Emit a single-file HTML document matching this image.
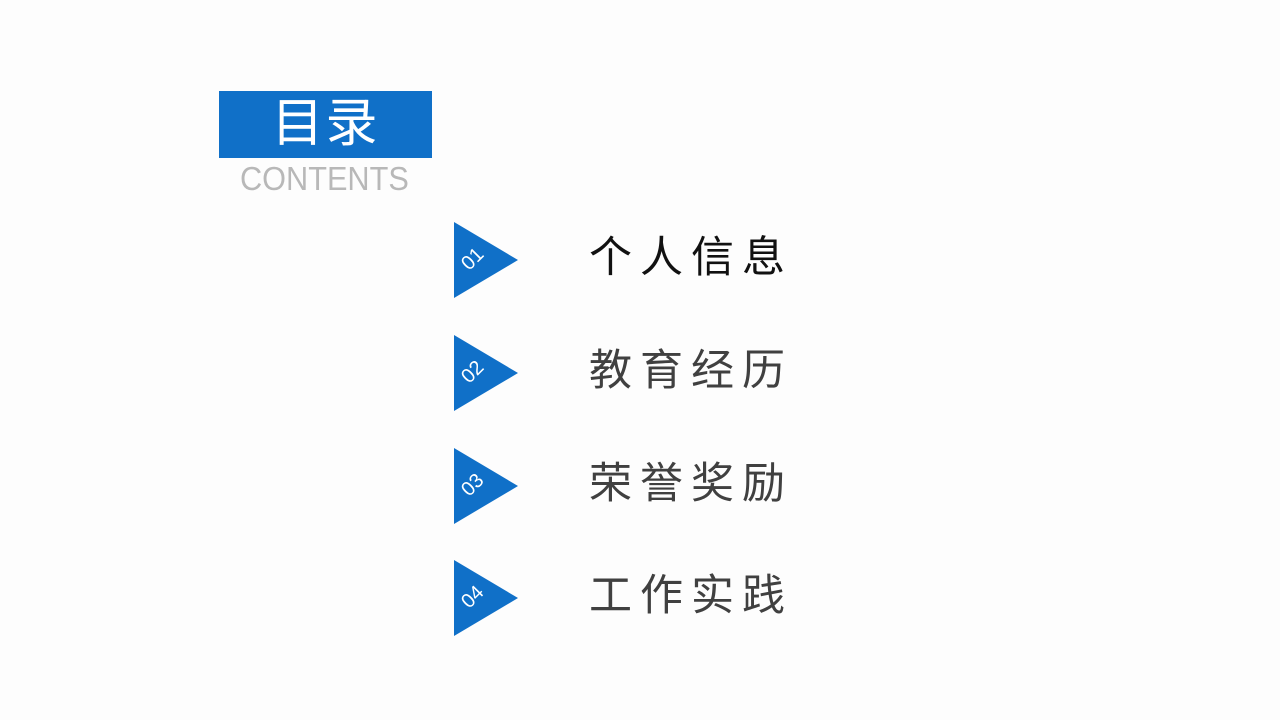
<!DOCTYPE html>
<html><head><meta charset="utf-8"><style>
body{margin:0;width:1280px;height:720px;background:#fdfdfd;position:relative;overflow:hidden;font-family:"Liberation Sans","Noto Sans CJK SC",sans-serif}
.box{position:absolute;left:219px;top:91px;width:213px;height:67px;background:#1070c8;color:#fff;font-size:52px;text-align:center;line-height:67px;letter-spacing:2px}
.ct{position:absolute;left:240px;top:160px;font-size:33px;color:#b8b8b8;font-weight:300;letter-spacing:0px;transform:scaleX(0.93);transform-origin:left}
.tri{position:absolute;left:454px;width:0;height:0;border-top:38px solid transparent;border-bottom:38px solid transparent;border-left:64px solid #1070c8}
.num{position:absolute;left:462px;color:#fff;font-size:20px;transform:rotate(-45deg);font-weight:300}
.it{position:absolute;left:589px;font-size:43px;color:#404040;letter-spacing:8px;line-height:50px}
</style></head><body>
<div class="box">目录</div>
<div class="ct">CONTENTS</div>
<div class="tri" style="top:222px"></div><div class="num" style="top:248px">01</div>
<div class="it" style="top:233px;color:#111">个人信息</div>
<div class="tri" style="top:335px"></div><div class="num" style="top:361px">02</div>
<div class="it" style="top:346px">教育经历</div>
<div class="tri" style="top:448px"></div><div class="num" style="top:474px">03</div>
<div class="it" style="top:459px">荣誉奖励</div>
<div class="tri" style="top:560px"></div><div class="num" style="top:586px">04</div>
<div class="it" style="top:571px">工作实践</div>
</body></html>
